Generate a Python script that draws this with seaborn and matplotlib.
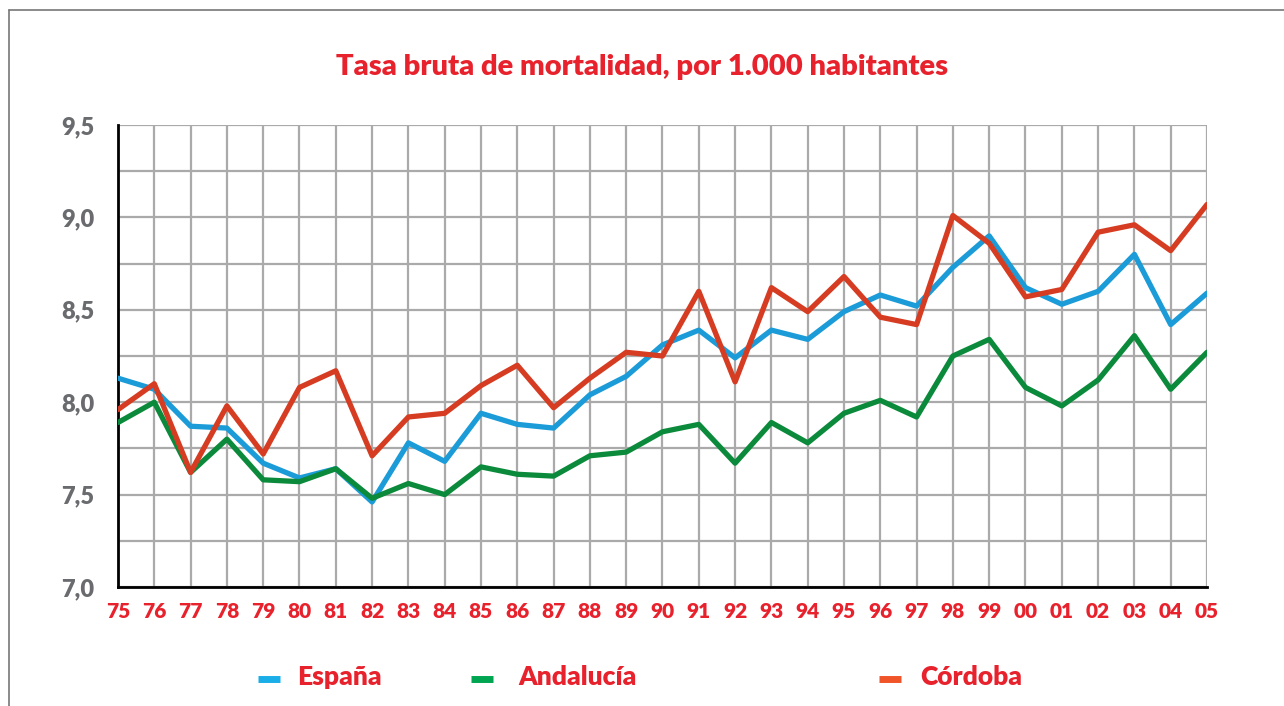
import numpy as np
import pandas as pd
import seaborn as sns
import matplotlib.pyplot as plt
from matplotlib.lines import Line2D
from matplotlib.ticker import MultipleLocator, FixedLocator

years = ["75", "76", "77", "78", "79", "80", "81", "82", "83", "84", "85",
         "86", "87", "88", "89", "90", "91", "92", "93", "94", "95", "96",
         "97", "98", "99", "00", "01", "02", "03", "04", "05"]

espana = [8.13, 8.07, 7.87, 7.86, 7.67, 7.59, 7.64, 7.46, 7.78, 7.68, 7.94,
          7.88, 7.86, 8.04, 8.14, 8.31, 8.39, 8.24, 8.39, 8.34, 8.49, 8.58,
          8.52, 8.73, 8.90, 8.62, 8.53, 8.60, 8.80, 8.42, 8.59]
andalucia = [7.89, 8.00, 7.62, 7.80, 7.58, 7.57, 7.64, 7.48, 7.56, 7.50, 7.65,
             7.61, 7.60, 7.71, 7.73, 7.84, 7.88, 7.67, 7.89, 7.78, 7.94, 8.01,
             7.92, 8.25, 8.34, 8.08, 7.98, 8.12, 8.36, 8.07, 8.27]
cordoba = [7.96, 8.10, 7.62, 7.98, 7.72, 8.08, 8.17, 7.71, 7.92, 7.94, 8.09,
           8.20, 7.97, 8.13, 8.27, 8.25, 8.60, 8.11, 8.62, 8.49, 8.68, 8.46,
           8.42, 9.01, 8.86, 8.57, 8.61, 8.92, 8.96, 8.82, 9.07]

series = ["España", "Andalucía", "Córdoba"]
yticks = [7.0, 7.5, 8.0, 8.5, 9.0, 9.5]
ytick_labels = ["7,0", "7,5", "8,0", "8,5", "9,0", "9,5"]

line_colors = {"España": "#1b9bd7", "Andalucía": "#0b8a3b", "Córdoba": "#d63c22"}
legend_colors = {"España": "#1aaee8", "Andalucía": "#00a551", "Córdoba": "#f0552a"}
red = "#e8222d"

df = pd.DataFrame({
    "idx": np.tile(np.arange(len(years)), 3),
    "valor": espana + andalucia + cordoba,
    "serie": np.repeat(series, len(years)),
})

sns.set_style("white")
plt.rcParams["font.family"] = ["Lato", "DejaVu Sans"]

fig = plt.figure(figsize=(12.84, 7.06), dpi=100)
ax = fig.add_axes([118 / 1284, 1 - 587 / 706, (1207 - 118) / 1284, (587 - 125) / 706])

sns.lineplot(data=df, x="idx", y="valor", hue="serie", palette=line_colors,
             linewidth=3.8, legend=False, ax=ax, zorder=3)

ax.set_xlim(0, len(years) - 1)
ax.set_ylim(7.0, 9.5)
ax.xaxis.set_major_locator(FixedLocator(range(len(years))))
ax.set_xticklabels(years)
ax.set_yticks(yticks)
ax.set_yticklabels(ytick_labels)
ax.yaxis.set_minor_locator(MultipleLocator(0.25))
ax.grid(True, which="both", color="#aaaaaa", linewidth=1.6)
ax.set_axisbelow(True)
ax.set_xlabel("")
ax.set_ylabel("")

for s in ["top", "right"]:
    ax.spines[s].set_visible(False)
for s in ["left", "bottom"]:
    ax.spines[s].set_color("black")
    ax.spines[s].set_linewidth(2)

ax.tick_params(axis="x", length=0, pad=11)
ax.tick_params(axis="y", length=0, pad=17)
ax.tick_params(which="minor", length=0)
for lab in ax.get_xticklabels():
    lab.set_fontweight("heavy")
    lab.set_fontsize(15)
    lab.set_color(red)
for lab in ax.get_yticklabels():
    lab.set_fontweight("heavy")
    lab.set_fontsize(17)
    lab.set_color("#6a6b6e")

fig.text(0.5, 1 - 67 / 706, "Tasa bruta de mortalidad, por 1.000 habitantes",
         ha="center", va="center", color=red, fontsize=21, fontweight="heavy")

# legend drawn by hand to keep the uneven spacing
leg_pos = {"España": (258, 297), "Andalucía": (471, 518), "Córdoba": (879, 920)}
for name in series:
    hx, tx = leg_pos[name]
    fig.add_artist(Line2D([hx / 1284, (hx + 22) / 1284], [1 - 679 / 706] * 2,
                          color=legend_colors[name], linewidth=5,
                          solid_capstyle="butt"))
    fig.text(tx / 1284, 1 - 677 / 706, name, ha="left", va="center",
             color=red, fontsize=19, fontweight="heavy")

# outer frame (top and left only)
fig.add_artist(Line2D([9 / 1284, 1], [1 - 10 / 706] * 2, color="#777777", linewidth=1.2))
fig.add_artist(Line2D([9 / 1284] * 2, [0, 1 - 10 / 706], color="#777777", linewidth=1.2))

fig.savefig("out.png", dpi=100)
